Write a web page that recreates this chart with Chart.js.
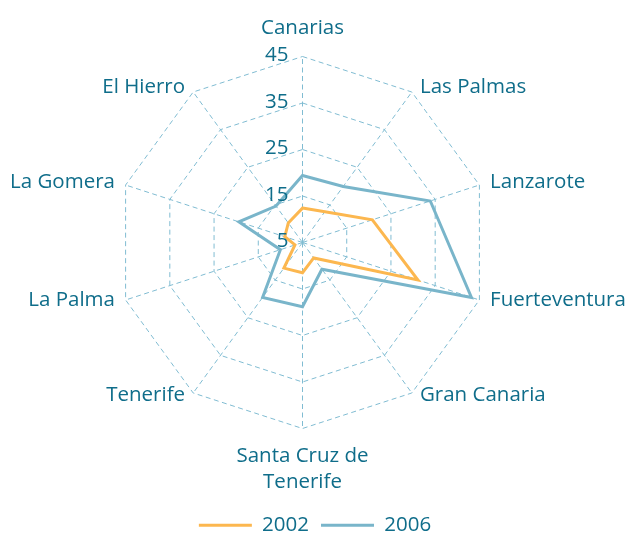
<!DOCTYPE html>
<html>
<head>
<meta charset="utf-8">
<script src="https://cdn.jsdelivr.net/npm/chart.js@4.4.1/dist/chart.umd.min.js"></script>
<style>
  html, body { margin: 0; padding: 0; background: #ffffff; }
  #wrap { width: 630px; height: 535px; }
</style>
</head>
<body>
<div id="wrap"><canvas id="c" width="630" height="535"></canvas></div>
<script>
// ---- data ----
const categories = ['Canarias', 'Las Palmas', 'Lanzarote', 'Fuerteventura', 'Gran Canaria',
  ['Santa Cruz de', 'Tenerife'], 'Tenerife', 'La Palma', 'La Gomera', 'El Hierro'];
const seriesNames = ['2002', '2006'];
const values2002 = [12.4, 13.2, 20.8, 31.1, 9.1, 11.5, 11.8, 6.7, 9.0, 10.2];
const values2006 = [19.4, 19.9, 33.9, 43.2, 12.1, 18.8, 19.6, 10.0, 19.4, 14.7];
const tickValues = [5, 15, 25, 35, 45];

// ---- styles ----
const TEXT = '#0f6d8a';
const GRID = '#80bcd2';
const ORANGE = '#fcb74f';
const BLUE = '#79b5ca';
const FONT = '"Open Sans", "Noto Sans", sans-serif';
const FONT_SIZE = 20.5;

const textPlugin = {
  id: 'radarText',
  afterDatasetsDraw(chart) {
    const s = chart.scales.r;
    const ctx = chart.ctx;
    ctx.save();
    ctx.fillStyle = TEXT;
    ctx.font = FONT_SIZE + 'px ' + FONT;
    ctx.textBaseline = 'alphabetic';
    // tick labels, left of the vertical axis
    ctx.textAlign = 'right';
    tickValues.forEach(v => {
      const y = s.yCenter - s.getDistanceFromCenterForValue(v);
      ctx.fillText(String(v), s.xCenter - 14, y + 4.5);
    });
    // point labels
    categories.forEach((lab, i) => {
      const lines = Array.isArray(lab) ? lab : [lab];
      const p = s.getPointPosition(i, s.drawingArea);
      const a = s.getIndexAngle(i);
      const sn = Math.sin(a), cs = Math.cos(a);
      let x, y0;
      if (Math.abs(sn) < 1e-6) {
        ctx.textAlign = 'center';
        x = p.x;
        y0 = cs > 0 ? p.y - 22.5 : p.y + 33;
      } else {
        ctx.textAlign = sn > 0 ? 'left' : 'right';
        x = p.x + Math.sign(sn) * (4 + 7 * Math.abs(sn));
        y0 = p.y - 2.5 - 4.5 * cs + 7.2;
      }
      lines.forEach((ln, k) => ctx.fillText(ln, x, y0 + k * 26.5));
    });
    ctx.restore();
  }
};

new Chart(document.getElementById('c'), {
  type: 'radar',
  data: {
    labels: categories,
    datasets: [
      { label: seriesNames[0], data: values2002, borderColor: ORANGE, backgroundColor: ORANGE,
        borderWidth: 3, pointRadius: 0, fill: false, tension: 0 },
      { label: seriesNames[1], data: values2006, borderColor: BLUE, backgroundColor: BLUE,
        borderWidth: 3, pointRadius: 0, fill: false, tension: 0 }
    ]
  },
  options: {
    responsive: false,
    devicePixelRatio: 1,
    animation: false,
    layout: { padding: 0 },
    plugins: {
      tooltip: { enabled: false },
      legend: {
        position: 'bottom',
        maxHeight: 32,
        labels: {
          usePointStyle: true,
          pointStyle: 'line',
          pointStyleWidth: 53,
          padding: 12,
          color: TEXT,
          font: { family: FONT, size: FONT_SIZE }
        }
      }
    },
    scales: {
      r: {
        min: tickValues[0],
        max: tickValues[tickValues.length - 1],
        ticks: { stepSize: tickValues[1] - tickValues[0], display: false },
        pointLabels: { display: false },
        grid: { color: GRID, lineWidth: 1 },
        border: { dash: [5, 3.5] },
        angleLines: { color: GRID, lineWidth: 1, borderDash: [5, 3.5] },
        afterFit(scale) {
          scale.xCenter = 302.5;
          scale.yCenter = 242.5;
          scale.drawingArea = 186;
        }
      }
    }
  },
  plugins: [textPlugin]
});
</script>
</body>
</html>
